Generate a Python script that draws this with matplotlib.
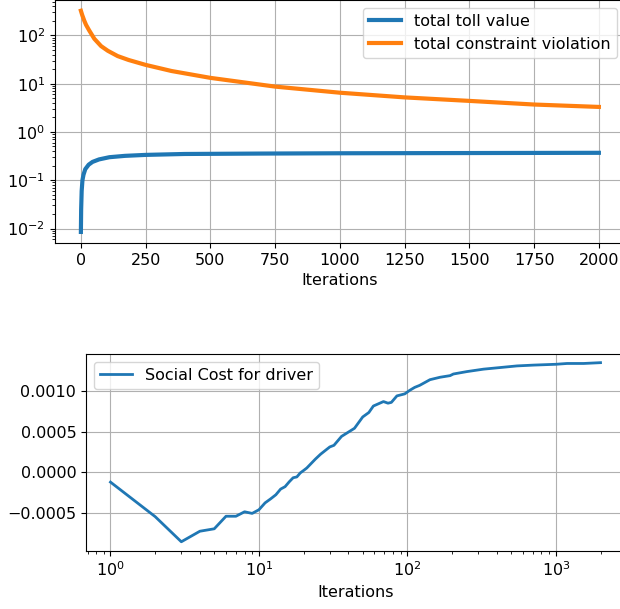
import matplotlib
matplotlib.use('Agg')
import matplotlib.pyplot as plt

# top plot: toll value and constraint violation vs iteration
toll_iter = [0, 1, 3, 6, 10, 17, 30, 45, 70, 110, 170, 250, 400, 700, 1000, 1500, 2000]
toll_value = [0.0085, 0.025, 0.06, 0.10, 0.13, 0.17, 0.21, 0.24, 0.27, 0.30, 0.32, 0.335,
              0.35, 0.357, 0.362, 0.366, 0.37]

viol_iter = [0, 5, 13, 20, 32, 52, 78, 104, 142, 184, 250, 350, 500, 750, 1000, 1250,
             1500, 1750, 2000]
viol_value = [324, 265, 202, 165, 127, 85, 60, 48, 37.3, 31, 24.5, 18.3, 13.2, 8.7, 6.5,
              5.2, 4.4, 3.7, 3.3]

# bottom plot: social cost for driver (log x)
cost_iter = [1, 2, 3, 4, 5, 6, 7, 8, 9, 10, 11, 12, 13, 14, 15, 16, 17, 18, 19, 20, 21, 24, 26,
             30, 32, 36, 39, 44, 50, 55, 59, 69, 74, 78, 85, 96, 104, 112, 121, 142, 166, 194,
             204, 252, 326, 423, 548, 710, 1000, 1190, 1540, 2000]
cost_value = [-0.124, -0.55, -0.86, -0.73, -0.70, -0.545, -0.545, -0.49, -0.51, -0.465, -0.38,
              -0.33, -0.28, -0.21, -0.18, -0.12, -0.07, -0.06, -0.01, 0.02, 0.05, 0.16, 0.22,
              0.31, 0.33, 0.44, 0.48, 0.54, 0.68, 0.735, 0.815, 0.87, 0.85, 0.86, 0.94, 0.965,
              1.01, 1.045, 1.07, 1.14, 1.17, 1.19, 1.21, 1.24, 1.27, 1.29, 1.31, 1.32, 1.33,
              1.34, 1.34, 1.35]
cost_value = [v * 1e-3 for v in cost_value]

plt.rcParams['font.size'] = 11.5

fig = plt.figure(figsize=(6.2, 6.09), dpi=100)

# axes run past the right / top edge like the cropped original
ax1 = fig.add_axes([0.0887, 0.601, 0.919, 0.3995])
ax1.semilogy(toll_iter, toll_value, linewidth=3, label='total toll value')
ax1.semilogy(viol_iter, viol_value, linewidth=3, label='total constraint violation')
ax1.set_xlabel('Iterations')
ax1.grid(True)
ax1.legend(loc='upper right')
ax1.spines['right'].set_visible(False)

ax2 = fig.add_axes([0.1387, 0.0957, 0.8694, 0.3235])
ax2.semilogx(cost_iter, cost_value, linewidth=2, label='Social Cost for driver')
ax2.set_xlabel('Iterations')
ax2.grid(True)
ax2.legend(loc='upper left')
ax2.spines['right'].set_visible(False)

plt.savefig('out.png', dpi=100)
